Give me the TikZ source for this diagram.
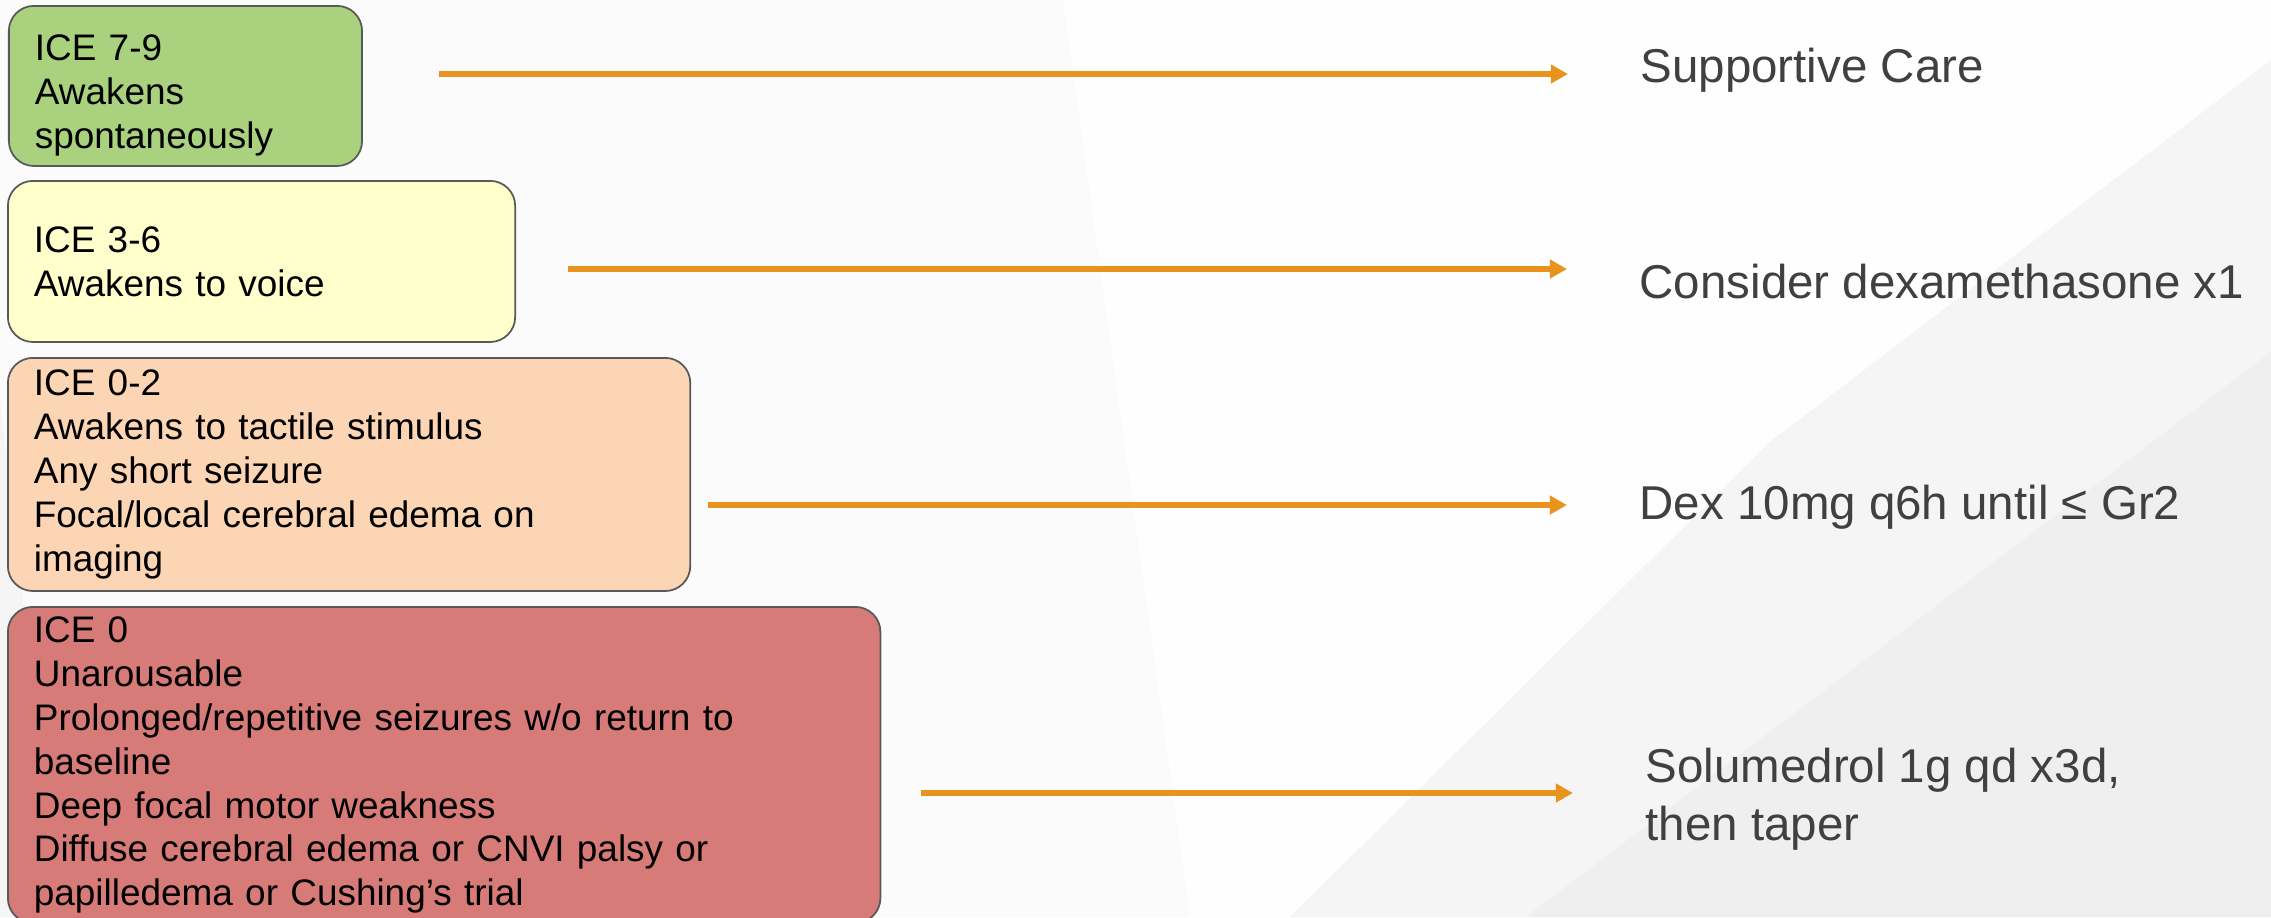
\documentclass[tikz,border=0pt]{standalone}
\usepackage{fontspec}
\setmainfont{Liberation Sans}
\usepackage{tikz}
\usetikzlibrary{arrows.meta}

\definecolor{icegreen}{RGB}{169,209,126}
\definecolor{iceyellow}{RGB}{255,255,204}
\definecolor{icepeach}{RGB}{252,213,180}
\definecolor{icered}{RGB}{215,123,120}
\definecolor{arroworange}{RGB}{232,147,30}
\definecolor{txtgray}{RGB}{64,64,64}
\definecolor{bgA}{RGB}{251,251,251}
\definecolor{bgB}{RGB}{239,239,239}
\definecolor{bgC}{RGB}{245,245,245}
\definecolor{bgD}{RGB}{254,254,254}

\tikzset{
  gradebox/.style={draw=black!65, line width=0.5pt, rounded corners=0.25cm,
    anchor=north west, align=left, inner xsep=0.26cm, inner ysep=0pt,
    font=\fontsize{10.5pt}{12.5pt}\selectfont},
  treat/.style={anchor=west, inner sep=0pt, align=left, text=txtgray,
    font=\fontsize{13.5pt}{16.5pt}\selectfont},
  flow/.style={draw=arroworange, line width=1.7pt,
    -{Triangle[length=0.17cm, width=0.18cm]}, shorten >=0.72cm}
}

\begin{document}
\begin{tikzpicture}[x=0.01cm, y=-0.01cm]
        % background
        \fill[bgA] (0,0) rectangle (2271,917);
        \useasboundingbox (0,0) rectangle (2271,917);
        \fill[bgD] (1063,0) -- (2271,0) -- (2271,917) -- (1190,917) -- cycle;
        \fill[bgC] (0,400) -- (60,917) -- (0,917) -- cycle;
        \fill[bgC] (1290,917) -- (1771,441) -- (2271,60) -- (2271,917) -- cycle;
        \fill[bgB] (1526,917) -- (2271,352) -- (2271,917) -- cycle;

        % grade boxes
        \node[gradebox, fill=icegreen, text width=3.01cm, minimum height=1.60cm] (ice79) at (8,5)
            {\rule{0pt}{0.45cm}ICE 7-9\\Awakens\\spontaneously};
        \node[gradebox, fill=iceyellow, text width=4.55cm, minimum height=1.61cm] (ice36) at (7,180)
            {ICE 3-6\\Awakens to voice};
        \node[gradebox, fill=icepeach, text width=6.30cm, minimum height=2.33cm] (ice02) at (7,357)
            {ICE 0-2\\Awakens to tactile stimulus\\Any short seizure\\Focal/local cerebral edema on\\imaging};
        \node[gradebox, fill=icered, text width=8.20cm, minimum height=3.16cm] (ice0) at (7,606)
            {ICE 0\\Unarousable\\Prolonged/repetitive seizures w/o return to\\baseline\\Deep focal motor weakness\\Diffuse cerebral edema or CNVI palsy or\\papilledema or Cushing’s trial};

        % treatments
        \node[treat] (care) at (1640,70) {Supportive Care};
        \node[treat] (dexa) at (1639,282) {Consider dexamethasone x1};
        \node[treat] (dexq) at (1639,507) {Dex 10mg q6h until ≤ Gr2};
        \node[treat] (solu) at (1645,799) {Solumedrol 1g qd x3d,\\then taper};

        % arrows
        \coordinate (s1) at (439,74);
        \coordinate (s2) at (568,269);
        \coordinate (s3) at (708,505);
        \coordinate (s4) at (921,793);
        \draw[flow] (s1) -- (s1 -| care.west);
        \draw[flow] (s2) -- (s2 -| dexa.west);
        \draw[flow] (s3) -- (s3 -| dexq.west);
        \draw[flow] (s4) -- (s4 -| solu.west);
    \end{tikzpicture}
\end{document}
